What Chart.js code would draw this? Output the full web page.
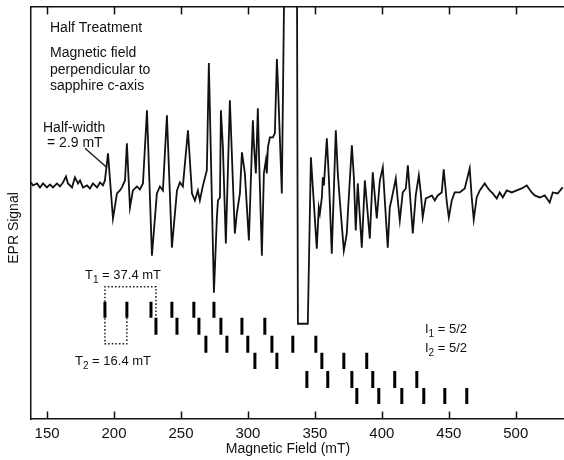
<!DOCTYPE html>
<html><head><meta charset="utf-8">
<script src="https://cdn.jsdelivr.net/npm/chart.js@4"></script>
<style>html,body{margin:0;padding:0;background:#fff}</style>
</head><body>
<canvas id="c" width="564" height="460"></canvas>
<script>
// ---- Data (Magnetic field in mT, EPR signal in arbitrary units) ----
const fieldMT = [138.0,139.5,142.5,144.7,147.0,149.9,152.2,154.4,157.4,159.6,161.9,164.1,165.6,168.6,170.8,173.1,174.6,176.8,179.8,182.0,184.3,187.3,189.5,191.7,193.2,
195.5,199.2,202.2,204.4,205.9,208.2,209.6,211.9,214.1,217.1,219.3,221.6,224.6,228.3,232.0,234.3,236.5,239.5,243.2,247.0,249.2,251.4,255.2,258.2,260.4,262.6,264.1,266.4,269.3,
270.8,274.6,276.8,277.6,279.1,279.8,281.3,283.5,286.5,288.8,290.2,291.7,294.0,295.5,297.7,300.7,302.9,303.7,304.4,305.9,307.4,308.2,310.4,311.9,313.4,314.1,314.9,316.4,318.6,320.1,
321.6,322.3,325.3,327.6,336.5,337.3,344.7,347.0,351.4,352.9,353.7,355.2,355.9,356.7,358.9,360.4,362.6,365.6,367.1,368.6,371.6,373.8,374.6,377.6,379.1,380.5,382.0,385.0,387.3,388.8,
391.0,393.2,396.2,398.5,400.7,402.2,404.4,405.9,407.4,410.4,411.9,413.4,415.6,417.9,419.4,423.1,425.3,427.6,429.1,430.5,432.8,434.3,437.3,439.5,441.7,444.7,446.2,448.5,450.0,
452.2,454.4,458.2,461.9,465.6,467.1,468.6,470.8,473.1,476.8,478.3,480.5,482.8,485.8,488.0,490.3,493.2,497.0,500.7,504.4,508.2,511.9,514.1,517.9,521.6,525.3,527.6,531.3,535.0];
const signal = [3,0,2,-2,2,-2,1,-2,2,-1,3,9,2,-2,8,2,5,-2,0,-3,2,-2,3,0,5,
32,-33,-8,-5,-2,5,42,-22,-5,-1,-4,2,75,-70,-8,-1,-5,70,-62,-5,3,-1,55,-8,-15,-5,-15,0,15,
122,-107,-32,-15,-12,75,38,-58,85,2,-48,-28,-8,33,12,-55,35,65,42,12,77,32,-70,12,25,12,38,48,48,52,
126,105,-8,260,260,-138,-138,28,-63,-22,-28,-12,8,0,47,8,-68,55,12,-15,-65,-48,-28,40,8,-45,2,-62,5,-18,
-53,13,-33,5,18,-15,-62,-22,-13,7,-15,-35,-7,-3,20,-48,-10,10,-8,-32,-13,-12,-10,-15,-10,-7,16,-17,-32,
-15,-7,-7,-3,17,-12,-34,-12,-5,2,-1,-5,-8,-13,-7,-12,-5,-7,-5,-3,0,-7,-10,-12,-10,-17,-7,-8,-2];

// Stick diagram: line positions (mT), one array per row
const sticksA = [193.2,209.6,227.6,243.2,259.6,274.6];
const sticksB = [231.3,247.0,263.4,279.8,295.5,312.6];
const sticksC = [268.6,284.3,299.9,317.9,333.5,350.7];
const sticksD = [305.2,321.6,355.2,371.6,388.7];
const sticksE = [344.0,359.6,377.6,393.2,409.6,426.1];
const sticksF = [381.3,397.7,414.9,431.3,447.0,463.4];
const rowTop    = [-116,-132,-150,-167,-185,-202];
const rowBottom = [-132,-149,-167,-183,-202,-218];
const boxLevels = [-101,-158];         // dotted T1/T2 box top and bottom
const leaderX = [178.3,194.7];          // half-width pointer
const leaderY = [37,18];
const tickLabels = [150,200,250,300,350,400,450,500];
const xMin = 138, xMax = 536, yMin = -233, yMax = 178;

// ---- Build datasets ----
const FONT = '"Liberation Sans", Arial, Helvetica, sans-serif';
const rows = [sticksA,sticksB,sticksC,sticksD,sticksE,sticksF];
const stickPts = [];
rows.forEach((r,i)=>r.forEach(v=>{
  stickPts.push({x:v,y:rowTop[i]},{x:v,y:rowBottom[i]},{x:v,y:null});
}));
const tracePts = fieldMT.map((v,i)=>({x:v,y:signal[i]}));
const boxPts = [
  {x:sticksA[1],y:rowBottom[0]},{x:sticksA[1],y:boxLevels[1]},
  {x:sticksA[0],y:boxLevels[1]},{x:sticksA[0],y:boxLevels[0]},
  {x:sticksB[0],y:boxLevels[0]},{x:sticksB[0],y:rowTop[1]}
];
const leaderPts = leaderX.map((v,i)=>({x:v,y:leaderY[i]}));

function subText(ctx, base, sub, rest, x, y, size){
  ctx.font = size+'px '+FONT;
  ctx.fillText(base,x,y);
  let w = ctx.measureText(base).width;
  ctx.font = Math.round(size*0.75)+'px '+FONT;
  ctx.fillText(sub,x+w,y+4);
  w += ctx.measureText(sub).width;
  ctx.font = size+'px '+FONT;
  ctx.fillText(rest,x+w,y);
}

const decor = {
  id:'decor',
  afterDraw(chart){
    const {ctx, chartArea:a, scales:{x}} = chart;
    ctx.save();
    ctx.strokeStyle='#111'; ctx.lineWidth=1.5;
    x.ticks.forEach(t=>{
      const p = Math.round(x.getPixelForValue(t.value))+0.5;
      ctx.beginPath();
      ctx.moveTo(p,a.bottom); ctx.lineTo(p,a.bottom-7.5);
      ctx.moveTo(p,a.top); ctx.lineTo(p,a.top+7.5);
      ctx.stroke();
    });
    ctx.fillStyle='#111';
    ctx.textAlign='left'; ctx.textBaseline='alphabetic';
    ctx.font='14px '+FONT;
    ctx.fillText('Half Treatment',50,32);
    ctx.fillText('Magnetic field',50,57);
    ctx.fillText('perpendicular to',50,73.5);
    ctx.fillText('sapphire c-axis',50,90);
    ctx.fillText('Half-width',43,132);
    ctx.fillText('= 2.9 mT',47,147);
    subText(ctx,'T','1',' = 37.4 mT',85,279,13);
    subText(ctx,'T','2',' = 16.4 mT',75,365,13);
    subText(ctx,'I','1',' = 5/2',425,333,13);
    subText(ctx,'I','2',' = 5/2',425,352,13);
    ctx.font='14px '+FONT;
    ctx.textAlign='center'; ctx.textBaseline='middle';
    ctx.fillText('Magnetic Field (mT)',288,449);
    ctx.translate(14,228); ctx.rotate(-Math.PI/2);
    ctx.fillText('EPR Signal',0,0);
    ctx.restore();
  }
};

const axisBorder = {display:true,color:'#111',width:1.5};
new Chart(document.getElementById('c'),{
  type:'line',
  data:{datasets:[
    {data:tracePts,borderColor:'#111',borderWidth:1.8,pointRadius:0,tension:0},
    {data:stickPts,borderColor:'#000',borderWidth:3,borderCapStyle:'butt',pointRadius:0,spanGaps:false},
    {data:boxPts,borderColor:'#222',borderWidth:1.5,borderDash:[1.6,2],pointRadius:0},
    {data:leaderPts,borderColor:'#111',borderWidth:1.3,pointRadius:0}
  ]},
  options:{
    responsive:false, animation:false, devicePixelRatio:1,
    layout:{padding:{left:31,right:0,top:7,bottom:11}},
    plugins:{legend:{display:false},tooltip:{enabled:false}},
    scales:{
      x:{type:'linear',position:'bottom',min:xMin,max:xMax,
        afterBuildTicks:s=>{s.ticks=tickLabels.map(v=>({value:v}));},
        ticks:{padding:6,color:'#111',font:{family:FONT,size:15},callback:v=>String(v)},
        grid:{display:true,drawOnChartArea:false,drawTicks:false},
        border:axisBorder},
      x2:{type:'linear',position:'top',min:xMin,max:xMax,
        ticks:{display:false},grid:{display:true,drawOnChartArea:false,drawTicks:false},
        border:axisBorder},
      y:{type:'linear',min:yMin,max:yMax,
        ticks:{display:false},grid:{display:true,drawOnChartArea:false,drawTicks:false},
        border:axisBorder}
    }
  },
  plugins:[decor]
});
</script>
</body></html>
